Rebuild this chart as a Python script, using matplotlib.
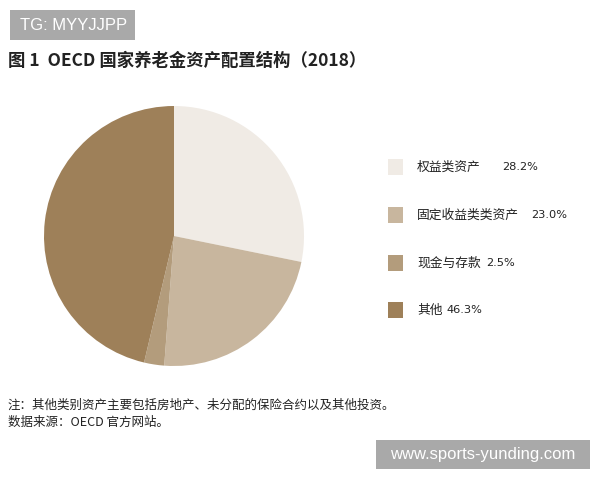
import matplotlib
matplotlib.use("Agg")
import matplotlib.pyplot as plt
from matplotlib.patches import Rectangle

plt.rcParams['font.family'] = ['Noto Sans CJK SC', 'DejaVu Sans']

categories = ['权益类资产', '固定收益类类资产', '现金与存款', '其他']
values = [28.2, 23.0, 2.5, 46.3]
colors = ['#f0ebe5', '#c8b69e', '#b39c7c', '#9e8059']
title = '图 1  OECD 国家养老金资产配置结构（2018）'
notes = ['注：其他类别资产主要包括房地产、未分配的保险合约以及其他投资。',
         '数据来源：OECD 官方网站。']

W, H = 600, 480
fig = plt.figure(figsize=(6, 4.8), dpi=100)
fig.patch.set_facecolor('white')

def fx(px):
    return px / W

def fy(py):
    return 1 - py / H

# pie
cx, cy, r = 174, 236, 130
ax = fig.add_axes([fx(cx - r), fy(cy + r), 2 * r / W, 2 * r / H])
ax.pie(values, colors=colors, startangle=90, counterclock=False,
       wedgeprops=dict(linewidth=0))
ax.set_xlim(-1, 1)
ax.set_ylim(-1, 1)
ax.set_aspect('equal')
ax.axis('off')

# title
fig.text(fx(8), fy(61), title, fontsize=12.5, fontweight='bold', color='#222222',
         va='center', ha='left')

# legend
ys = [167, 215, 263, 310]
gaps = [21, 12, 5, 4]
renderer = fig.canvas.get_renderer()
for cat, val, col, gap, y in zip(categories, values, colors, gaps, ys):
    fig.patches.append(Rectangle((fx(388), fy(y + 8)), 15 / W, 16 / H,
                                 transform=fig.transFigure, facecolor=col,
                                 edgecolor='none'))
    t = fig.text(fx(417), fy(y), cat, fontsize=9.2, color='#222222',
                 va='center', ha='left')
    x_end = t.get_window_extent(renderer).x1
    fig.text(fx(x_end + gap), fy(y), f'{val:.1f}%', fontsize=8.2, color='#222222',
             va='center', ha='left', family='DejaVu Sans')

# notes
fig.text(fx(8), fy(405), notes[0], fontsize=9, color='#222222', va='center', ha='left')
fig.text(fx(8), fy(422), notes[1], fontsize=9, color='#222222', va='center', ha='left')

# watermark boxes
fig.patches.append(Rectangle((fx(10), fy(40)), 125 / W, 30 / H, transform=fig.transFigure,
                             facecolor='#a9a9a9', edgecolor='none'))
fig.text(fx(20), fy(25), 'TG: MYYJJPP', fontsize=12, color='white', va='center', ha='left',
         family='Liberation Sans')
fig.patches.append(Rectangle((fx(376), fy(469)), 214 / W, 29 / H, transform=fig.transFigure,
                             facecolor='#a9a9a9', edgecolor='none'))
fig.text(fx(483), fy(455), 'www.sports-yunding.com', fontsize=12, color='white',
         va='center', ha='center', family='Liberation Sans')

fig.savefig('out.png', dpi=100)
